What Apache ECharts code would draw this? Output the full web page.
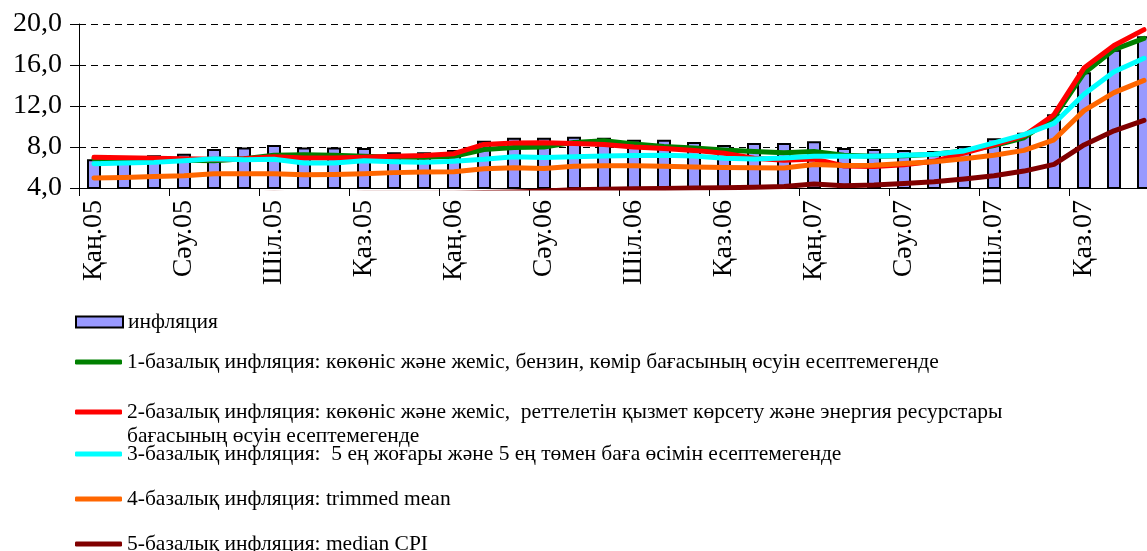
<!DOCTYPE html>
<html>
<head>
<meta charset="utf-8">
<script src="https://cdn.jsdelivr.net/npm/echarts@6/dist/echarts.min.js"></script>
<style>
  html, body { margin: 0; padding: 0; overflow: hidden; background: #fff; }
  #chart { width: 1160px; height: 551px; }
</style>
</head>
<body>
<div id="chart"></div>
<script>
// Monthly categories, Jan 2005 – Dec 2007
const months = [
  'Қаң.05','Ақп.05','Нау.05','Сәу.05','Мам.05','Мау.05','Шіл.05','Там.05','Қыр.05','Қаз.05','Қар.05','Жел.05',
  'Қаң.06','Ақп.06','Нау.06','Сәу.06','Мам.06','Мау.06','Шіл.06','Там.06','Қыр.06','Қаз.06','Қар.06','Жел.06',
  'Қаң.07','Ақп.07','Нау.07','Сәу.07','Мам.07','Мау.07','Шіл.07','Там.07','Қыр.07','Қаз.07','Қар.07','Жел.07'
];

// Headline inflation (bars), %
const inflation = [
  6.8, 6.9, 7.2, 7.35, 7.8, 7.95, 8.2, 7.95, 7.95, 7.9, 7.5, 7.5,
  7.7, 8.6, 8.9, 8.9, 9.0, 8.9, 8.7, 8.7, 8.5, 8.2, 8.4, 8.4,
  8.55, 7.9, 7.8, 7.7, 7.6, 8.1, 8.85, 9.4, 11.2, 15.3, 17.5, 18.8
];

// Core inflation measures, %
const core1 = [
  6.85, 6.8, 6.75, 6.7, 6.65, 6.85, 7.2, 7.25, 7.2, 7.1, 7.0, 7.0,
  7.1, 7.75, 7.95, 8.0, 8.45, 8.6, 8.3, 8.05, 7.9, 7.7, 7.55, 7.45,
  7.57, 7.2, 7.1, 7.15, 7.3, 7.6, 8.15, 8.9, 10.9, 15.2, 17.5, 18.6
];
const core2 = [
  7.0, 6.95, 6.9, 6.85, 6.8, 6.85, 7.05, 6.93, 6.93, 7.0, 7.1, 7.17,
  7.35, 8.25, 8.4, 8.42, 8.35, 8.24, 8.0, 7.85, 7.67, 7.4, 6.9, 6.7,
  6.83, 6.15, 6.1, 6.27, 6.6, 7.4, 8.2, 9.1, 11.15, 15.7, 17.9, 19.45
];
const core3 = [
  6.37, 6.43, 6.5, 6.67, 6.86, 6.75, 6.8, 6.44, 6.44, 6.65, 6.55, 6.5,
  6.62, 6.8, 7.05, 6.98, 7.05, 7.12, 7.18, 7.2, 7.12, 6.9, 6.83, 6.93,
  7.1, 7.1, 7.1, 7.2, 7.3, 7.62, 8.4, 9.2, 10.3, 13.15, 15.35, 16.65
];
const core4 = [
  4.98, 5.03, 5.12, 5.2, 5.38, 5.4, 5.4, 5.3, 5.32, 5.4, 5.5, 5.55,
  5.58, 5.88, 5.97, 5.9, 6.12, 6.18, 6.18, 6.12, 6.05, 6.0, 5.97, 5.95,
  6.3, 6.2, 6.22, 6.4, 6.55, 6.85, 7.2, 7.67, 8.7, 11.55, 13.3, 14.5
];
const core5 = [
  3.2, 3.2, 3.3, 3.3, 3.4, 3.4, 3.5, 3.4, 3.4, 3.5, 3.5, 3.5,
  3.5, 3.55, 3.6, 3.7, 3.82, 3.88, 3.92, 3.96, 4.0, 4.02, 4.08, 4.15,
  4.38, 4.22, 4.3, 4.45, 4.6, 4.88, 5.2, 5.65, 6.3, 8.2, 9.58, 10.6
];

// Y axis ticks
const yTicks = [4, 8, 12, 16, 20];

// Series names (legend text)
const nameInfl = 'инфляция';
const name1 = '1-базалық инфляция: көкөніс және жеміс, бензин, көмір бағасының өсуін есептемегенде';
const name2 = '2-базалық инфляция: көкөніс және жеміс,  реттелетін қызмет көрсету және энергия ресурстары';
const name2cont = 'бағасының өсуін есептемегенде';
const name3 = '3-базалық инфляция:  5 ең жоғары және 5 ең төмен баға өсімін есептемегенде';
const name4 = '4-базалық инфляция: trimmed mean';
const name5 = '5-базалық инфляция: median CPI';

const FONT = 'Liberation Serif';
const LEGEND_FONT = 21.5;

const lineSeries = [
  { name: name1, data: core1, color: '#008000' },
  { name: name2, data: core2, color: '#FF0000' },
  { name: name3, data: core3, color: '#00FFFF' },
  { name: name4, data: core4, color: '#FF6600' },
  { name: name5, data: core5, color: '#800000' }
];

// One legend block per entry, stacked under the plot
const legendRows = [
  { name: nameInfl, cy: 321, bar: true },
  { name: name1, cy: 361 },
  { name: name2, cy: 411 },
  { name: name3, cy: 453 },
  { name: name4, cy: 498 },
  { name: name5, cy: 543 }
];

const legends = legendRows.map(r => ({
  data: [r.name],
  left: 75,
  top: r.cy - 10,
  orient: 'vertical',
  icon: r.bar ? 'rect' : 'roundRect',
  itemWidth: 47,
  itemHeight: r.bar ? 11 : 5,
  itemGap: 0,
  padding: 0,
  selectedMode: false,
  textStyle: { fontFamily: FONT, fontSize: LEGEND_FONT, color: '#000' }
}));

const chart = echarts.init(document.getElementById('chart'));

chart.setOption({
  animation: false,
  backgroundColor: '#fff',
  grid: { left: 79, top: 24, right: 1, bottom: 363 },
  legend: legends,
  graphic: [{
    type: 'text',
    left: 127,
    top: 425,
    style: { text: name2cont, font: LEGEND_FONT + 'px "Liberation Serif"', fill: '#000' }
  }],
  xAxis: {
    type: 'category',
    data: months,
    boundaryGap: true,
    axisLine: { show: true, lineStyle: { color: '#000', width: 1 } },
    axisTick: { show: true, interval: 2, length: 8, lineStyle: { color: '#000', width: 1 } },
    axisLabel: {
      interval: 2,
      rotate: 90,
      margin: 12,
      fontFamily: FONT,
      fontSize: 28,
      color: '#000'
    },
    splitLine: { show: false }
  },
  yAxis: {
    type: 'value',
    min: yTicks[0],
    max: yTicks[yTicks.length - 1],
    interval: 4,
    axisLine: { show: true, lineStyle: { color: '#000', width: 1 } },
    axisTick: { show: true, length: 9, lineStyle: { color: '#000', width: 1 } },
    axisLabel: {
      margin: 17,
      fontFamily: FONT,
      fontSize: 28,
      color: '#000',
      formatter: v => v.toFixed(1).replace('.', ',')
    },
    splitLine: { show: true, lineStyle: { color: '#000', width: 1, type: [7, 5] } }
  },
  series: [
    {
      name: nameInfl,
      type: 'bar',
      data: inflation,
      barWidth: 14,
      itemStyle: { color: '#9999FF', borderColor: '#000', borderWidth: 2 },
      z: 2
    }
  ].concat(lineSeries.map(s => ({
    name: s.name,
    type: 'line',
    data: s.data,
    symbol: 'none',
    showSymbol: false,
    clip: true,
    color: s.color,
    itemStyle: { color: s.color },
    lineStyle: { color: s.color, width: 5, cap: 'round', join: 'round' },
    z: 3
  })))
});
</script>
</body>
</html>
